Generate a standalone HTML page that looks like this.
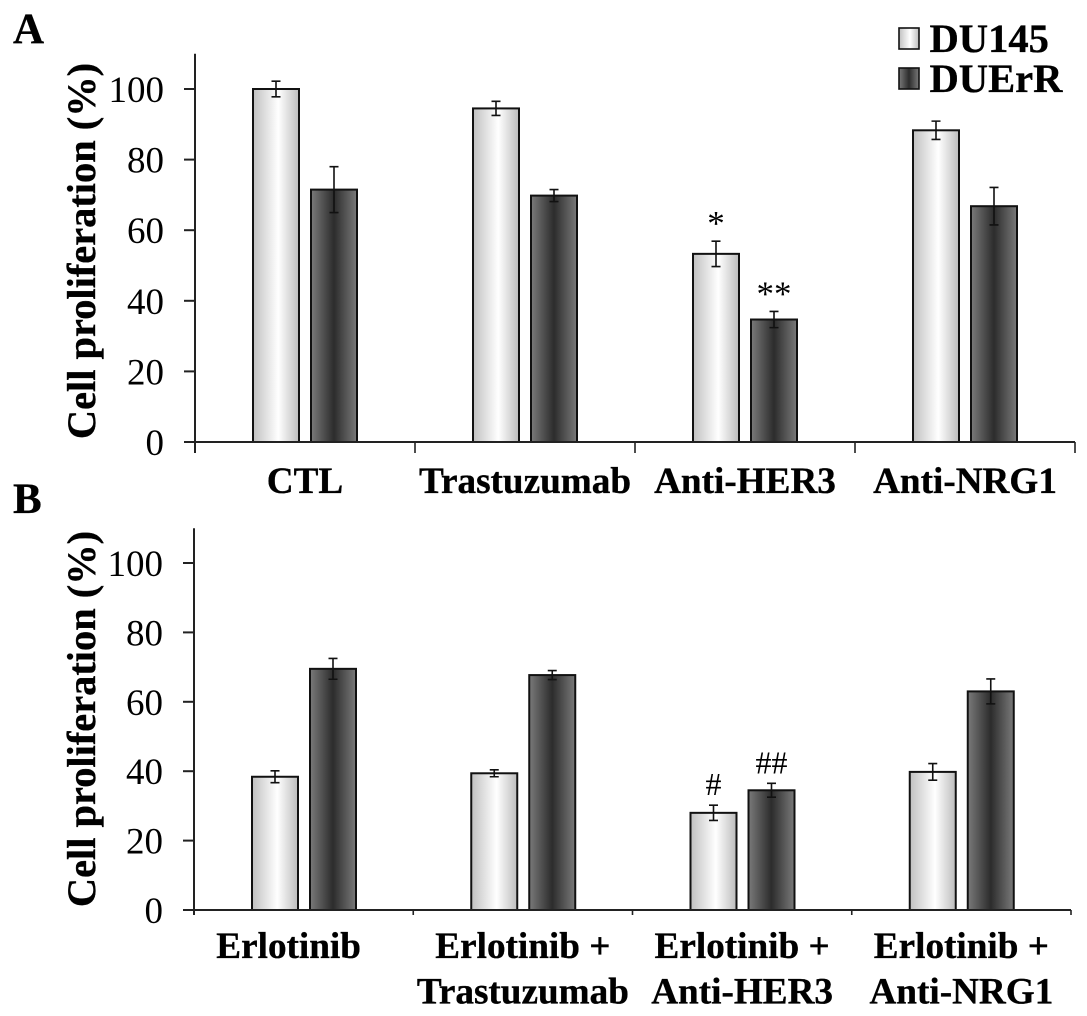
<!DOCTYPE html>
<html lang="en">
<head>
<meta charset="utf-8">
<title>Cell proliferation chart</title>
<style>
html,body{margin:0;padding:0;background:#fff;width:1087px;height:1016px;overflow:hidden}
svg{display:block}
text{font-family:"Liberation Serif",serif;fill:#000}
text[font-weight="bold"]{stroke:#000;stroke-width:.35px}
</style>
</head>
<body>
<svg id="chart" xmlns="http://www.w3.org/2000/svg" width="1087" height="1016" viewBox="0 0 1087 1016">
<defs>
<linearGradient id="grad-light" x1="0" x2="1" y1="0" y2="0">
<stop offset="0" stop-color="#c0c0c0"/><stop offset="0.55" stop-color="#ffffff"/><stop offset="1" stop-color="#bcbcbc"/>
</linearGradient>
<linearGradient id="grad-dark" x1="0" x2="1" y1="0" y2="0">
<stop offset="0" stop-color="#7a7a7a"/><stop offset="0.5" stop-color="#2c2c2c"/><stop offset="1" stop-color="#7a7a7a"/>
</linearGradient>
</defs>
<text x="13" y="43" font-size="43" font-weight="bold">A</text>
<text x="13" y="513" font-size="43" font-weight="bold">B</text>
<rect x="899" y="28" width="20" height="21" fill="url(#grad-light)" stroke="#111" stroke-width="1.6"/>
<text x="929.5" y="52" font-size="40.6" font-weight="bold">DU145</text>
<rect x="899" y="68" width="20" height="21" fill="url(#grad-dark)" stroke="#111" stroke-width="1.6"/>
<text x="929.5" y="92" font-size="40.6" font-weight="bold">DUErR</text>
</svg>
<script>
const yTicks = [0, 20, 40, 60, 80, 100];
const yMax = 110;
const categoriesA = [["CTL"], ["Trastuzumab"], ["Anti-HER3"], ["Anti-NRG1"]];
const du145A = [100, 94.5, 53.3, 88.3];
const du145ErrA = [2.2, 2, 3.6, 2.6];
const duerrA = [71.5, 69.8, 34.7, 66.8];
const duerrErrA = [6.5, 1.7, 2.3, 5.3];
const du145MarksA = ["", "", "*", ""];
const duerrMarksA = ["", "", "**", ""];
const categoriesB = [["Erlotinib"], ["Erlotinib +", "Trastuzumab"], ["Erlotinib +", "Anti-HER3"], ["Erlotinib +", "Anti-NRG1"]];
const du145B = [38.4, 39.4, 28, 39.8];
const du145ErrB = [1.7, 1, 2.2, 2.4];
const duerrB = [69.5, 67.7, 34.5, 63];
const duerrErrB = [3, 1.3, 2, 3.6];
const du145MarksB = ["", "", "#", ""];
const duerrMarksB = ["", "", "##", ""];

const svg = document.getElementById('chart');
const NS = 'http://www.w3.org/2000/svg';
function make(tag, props, text) {
  const el = document.createElementNS(NS, tag);
  for (const k in props) el.setAttribute(k, props[k]);
  if (text !== undefined) el.textContent = text;
  svg.appendChild(el);
  return el;
}
function drawPanel(p) {
  const xBand = p.bandW;
  const x = (i, s) => p.x0 + i * xBand + (s === 0 ? 58 : 116);
  const y = v => p.y0 - v * p.pxPerUnit;
  const stroke = '#222';

  const yAxis = make('line', {x1: p.x0, x2: p.x0, y1: y(yMax), y2: p.tickBottom, stroke: stroke, 'stroke-width': 2});
  
  

  yTicks.forEach(t => {
    const tick = make('line', {x1: p.x0 - 11, x2: p.x0, y1: y(t), y2: y(t), stroke: stroke, 'stroke-width': 2});
    
    
    const lab = make('text', {x: p.x0 - 31, y: y(t) + 13, 'font-size': 37, 'text-anchor': 'end'}, String(t));
    
    
  });

  p.series.forEach((s, si) => {
    s.values.forEach((v, i) => {
      const bx = x(i, si);
      const bar = make('rect', {x: bx, y: y(v), width: 46, height: p.y0 - y(v), fill: 'url(#' + s.grad + ')', stroke: '#111', 'stroke-width': 2});
      
      
      const cx = bx + 23;
      const hi = y(v + s.errs[i]);
      const lo = y(v - s.errs[i]);
      const err = make('path', {d: 'M' + (cx - 4.5) + ' ' + hi + 'H' + (cx + 4.5) + 'M' + cx + ' ' + hi + 'V' + lo + 'M' + (cx - 4.5) + ' ' + lo + 'H' + (cx + 4.5), stroke: '#111', 'stroke-width': 1.6, fill: 'none'});
      
      
      if (s.marks[i]) {
        const isHash = s.marks[i][0] === '#';
        const mark = make('text', {x: cx, y: hi - (isHash ? 10 : 6), 'font-size': isHash ? 32 : 35, 'text-anchor': 'middle'}, s.marks[i]);
        
        
      }
    });
  });

  const xAxis = make('line', {x1: p.x0 - 11, x2: p.x0 + 4 * xBand, y1: p.y0, y2: p.y0, stroke: stroke, 'stroke-width': 2});
  
  

  for (let i = 0; i <= p.categories.length; i++) {
    const tick = make('line', {x1: p.x0 + i * xBand, x2: p.x0 + i * xBand, y1: p.y0, y2: p.tickBottom, stroke: stroke, 'stroke-width': 1.6});
    
    
  }

  p.categories.forEach((lines, i) => {
    lines.forEach((line, li) => {
      const shift = (p.firstLabelShift && i === 0) ? p.firstLabelShift : 0;
      const t = make('text', {x: p.x0 + (i + 0.5) * xBand + shift, y: p.labelY + li * 45.5, 'font-size': 37.2, 'font-weight': 'bold', 'text-anchor': 'middle'}, line);
      
      
    });
  });

  const title = make('text', {x: 0, y: 0, 'font-size': 40.4, 'font-weight': 'bold', 'text-anchor': 'middle', transform: 'translate(' + p.titleX + ' ' + p.titleY + ') rotate(-90)'}, 'Cell proliferation (%)');
  
  
}

drawPanel({
  id: 'panel-a', x0: 195, y0: 442, pxPerUnit: 3.53, bandW: 220, tickBottom: 453, labelY: 493, titleX: 95, titleY: 251,
  categories: categoriesA,
  series: [
    {name: 'du145', grad: 'grad-light', values: du145A, errs: du145ErrA, marks: du145MarksA},
    {name: 'duerr', grad: 'grad-dark', values: duerrA, errs: duerrErrA, marks: duerrMarksA}
  ]
});
drawPanel({
  id: 'panel-b', x0: 194, y0: 910, pxPerUnit: 3.47, bandW: 219.25, tickBottom: 915, labelY: 958, titleX: 95, titleY: 719, firstLabelShift: -15,
  categories: categoriesB,
  series: [
    {name: 'du145', grad: 'grad-light', values: du145B, errs: du145ErrB, marks: du145MarksB},
    {name: 'duerr', grad: 'grad-dark', values: duerrB, errs: duerrErrB, marks: duerrMarksB}
  ]
});
</script>
</body>
</html>
